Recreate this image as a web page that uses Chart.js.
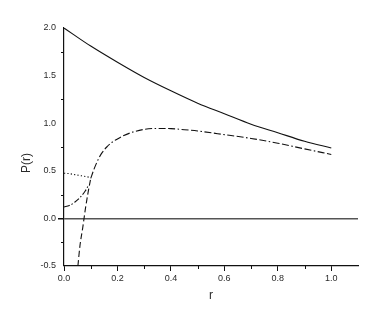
<!DOCTYPE html>
<html>
<head>
<meta charset="utf-8">
<script src="https://cdn.jsdelivr.net/npm/chart.js@4/dist/chart.umd.min.js"></script>
<style>
  html, body { margin: 0; padding: 0; background: #fff; }
  #wrap { width: 382px; height: 327px; position: relative; }
</style>
</head>
<body>
<div id="wrap"><canvas id="chart"></canvas></div>
<script>
/* ── Data ──────────────────────────────────────────────────────── */
const SOLID_R = [0, 0.1, 0.2, 0.3, 0.4, 0.5, 0.6, 0.7, 0.8, 0.9, 1.0];
const SOLID_P = [2.0, 1.81, 1.64, 1.48, 1.34, 1.21, 1.10, 0.99, 0.90, 0.81, 0.74];

const TAIL_R = [0.10, 0.11, 0.12, 0.13, 0.14, 0.16, 0.18, 0.20, 0.22, 0.25, 0.30, 0.35, 0.40, 0.45, 0.50, 0.60, 0.70, 0.80, 0.90, 1.00];
const TAIL_P = [0.42, 0.50, 0.57, 0.63, 0.68, 0.75, 0.80, 0.835, 0.865, 0.90, 0.935, 0.945, 0.943, 0.932, 0.918, 0.88, 0.84, 0.79, 0.73, 0.672];

const DASH_R = [0.052, 0.06, 0.07, 0.08, 0.09, 0.10];
const DASH_P = [-0.5, -0.28, -0.1, 0.1, 0.27, 0.42];

const DASHDOT_R = [0, 0.02, 0.04, 0.06, 0.08, 0.09];
const DASHDOT_P = [0.12, 0.135, 0.17, 0.22, 0.29, 0.34];

const DOT_R = [0, 0.02, 0.04, 0.06, 0.08, 0.10];
const DOT_P = [0.475, 0.47, 0.46, 0.45, 0.44, 0.43];

const X_MINOR = [0.1, 0.3, 0.5, 0.7, 0.9];
const Y_MINOR = [-0.25, 0.25, 0.75, 1.25, 1.75];

const FONT = "'Liberation Sans', Arial, Helvetica, sans-serif";
const TXT = "#2a2a2a";

const pts = (xs, ys) => xs.map((x, i) => ({ x, y: ys[i] }));

const line = (data, dash) => ({
  data,
  borderColor: "#111",
  borderWidth: 1.1,
  borderDash: dash,
  pointRadius: 0,
  fill: false,
  cubicInterpolationMode: "monotone"
});

/* ── Minor ticks + axis titles ─────────────────────────────────── */
const extras = {
  id: "extras",
  afterDraw(chart) {
    const { ctx, chartArea: a, scales: { x, y } } = chart;
    ctx.save();
    ctx.strokeStyle = "#111";
    ctx.lineWidth = 1;
    ctx.beginPath();
    X_MINOR.forEach(v => {
      const px = Math.round(x.getPixelForValue(v)) + 0.5;
      ctx.moveTo(px, a.bottom); ctx.lineTo(px, a.bottom + 3);
    });
    Y_MINOR.forEach(v => {
      const py = Math.round(y.getPixelForValue(v)) + 0.5;
      ctx.moveTo(a.left, py); ctx.lineTo(a.left - 3, py);
    });
    ctx.stroke();

    ctx.fillStyle = TXT;
    ctx.font = "12px " + FONT;
    ctx.textAlign = "center";
    ctx.textBaseline = "middle";
    ctx.fillText("r", (a.left + a.right) / 2, 296);
    ctx.translate(27, 163);
    ctx.rotate(-Math.PI / 2);
    ctx.fillText("P(r)", 0, 0);
    ctx.restore();
  }
};

new Chart(document.getElementById("chart"), {
  type: "line",
  data: {
    datasets: [
      line(pts(SOLID_R, SOLID_P), []),
      line(pts(TAIL_R, TAIL_P), [7, 2.5, 7, 2.5, 1.5, 2.5]),
      line(pts(DASH_R, DASH_P), [6, 3]),
      line(pts(DASHDOT_R, DASHDOT_P), [6, 2, 1.5, 2]),
      line(pts(DOT_R, DOT_P), [1.2, 2.2])
    ]
  },
  plugins: [extras],
  options: {
    responsive: true,
    maintainAspectRatio: false,
    animation: false,
    layout: { padding: { left: 0, top: 28, right: 24, bottom: 0 } },
    plugins: { legend: { display: false }, tooltip: { enabled: false } },
    scales: {
      x: {
        type: "linear",
        min: 0, max: 1.1,
        afterFit: s => { s.height = 61; },
        border: { display: true, color: "#111", width: 1.2 },
        grid: { drawOnChartArea: false, drawTicks: true, tickLength: 5, tickColor: "#111" },
        ticks: {
          stepSize: 0.2, includeBounds: false, padding: 2,
          color: TXT, font: { family: FONT, size: 9 },
          callback: v => v.toFixed(1)
        }
      },
      y: {
        min: -0.5, max: 2.0,
        afterFit: s => { s.width = 64; },
        border: { display: true, color: "#111", width: 1.2 },
        grid: {
          drawTicks: true, tickLength: 6, tickColor: "#111",
          color: c => (c.tick && c.tick.value === 0 ? "#555" : "rgba(0,0,0,0)"),
          lineWidth: c => (c.tick && c.tick.value === 0 ? 1.5 : 0)
        },
        ticks: {
          stepSize: 0.5, padding: 2,
          color: TXT, font: { family: FONT, size: 9 },
          callback: v => v.toFixed(1)
        }
      }
    }
  }
});
</script>
</body>
</html>
